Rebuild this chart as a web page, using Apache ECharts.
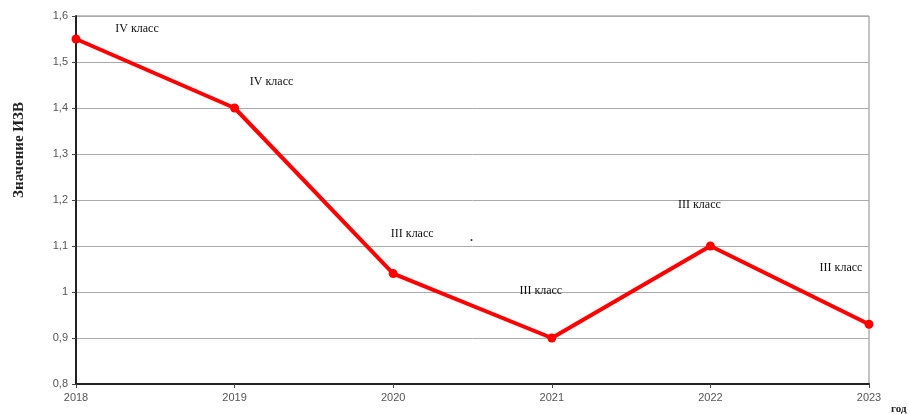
<!DOCTYPE html>
<html>
<head>
<meta charset="utf-8">
<script src="https://cdn.jsdelivr.net/npm/echarts@6/dist/echarts.min.js"></script>
<style>
  html, body { margin: 0; padding: 0; background: #fff; }
  #chart { width: 910px; height: 414px; }
</style>
</head>
<body>
<div id="chart"></div>
<script>
// годы и значения ИЗВ
const years = ['2018', '2019', '2020', '2021', '2022', '2023']
const izv = [1.55, 1.40, 1.04, 0.90, 1.10, 0.93]
const classes = ['IV класс', 'IV класс', 'III класс', 'III класс', 'III класс', 'III класс']
// сдвиг подписей от точки, px
const labelOffsets = [[61, -10], [37, -26], [19, -40], [-11, -47], [-11, -41], [-28, -56]]

let myChart = echarts.init(document.getElementById('chart'))

let points = izv.map((v, i) => ({
  value: v,
  label: {
    show: true,
    formatter: classes[i],
    offset: labelOffsets[i]
  }
}))

let option = {
  animation: false,
  grid: {
    left: 76,
    right: 41,
    top: 16,
    bottom: 30,
    show: true,
    borderColor: '#888',
    borderWidth: 1
  },
  xAxis: {
    type: 'category',
    data: years,
    boundaryGap: false,
    axisLine: { lineStyle: { color: '#222', width: 2 } },
    axisTick: { show: true, alignWithLabel: true, length: 4, lineStyle: { color: '#444' } },
    axisLabel: { color: '#555', fontFamily: 'Liberation Sans', fontSize: 11, margin: 8 },
    splitLine: { show: false }
  },
  yAxis: {
    type: 'value',
    min: 0.8,
    max: 1.6,
    interval: 0.1,
    axisLine: { show: true, lineStyle: { color: '#222', width: 2 } },
    axisTick: { show: true, length: 4, lineStyle: { color: '#444' } },
    axisLabel: {
      color: '#555',
      fontFamily: 'Liberation Sans',
      fontSize: 11,
      margin: 8,
      formatter: function (v) {
        return String(Math.round(v * 10) / 10).replace('.', ',')
      }
    },
    splitLine: { lineStyle: { color: '#aaa', width: 1 } }
  },
  graphic: [
    {
      type: 'text',
      x: 19,
      y: 150,
      rotation: Math.PI / 2,
      style: {
        text: 'Значение ИЗВ',
        font: 'bold 15px "Liberation Serif"',
        fill: '#222',
        align: 'center',
        verticalAlign: 'middle'
      }
    },
    {
      type: 'text',
      x: 891,
      y: 404,
      style: {
        text: 'год',
        font: 'bold 11px "Liberation Serif"',
        fill: '#222'
      }
    },
    {
      type: 'text',
      x: 470,
      y: 232,
      style: { text: '.', font: 'bold 12px "Liberation Serif"', fill: '#333' }
    }
  ],
  series: [
    {
      type: 'line',
      data: points,
      symbol: 'circle',
      symbolSize: 9,
      lineStyle: { color: '#ff0000', width: 4 },
      itemStyle: { color: '#ff0000' },
      label: {
        position: 'inside',
        color: '#111',
        fontFamily: 'Liberation Serif',
        fontSize: 12
      }
    }
  ]
}
myChart.setOption(option)
</script>
</body>
</html>
